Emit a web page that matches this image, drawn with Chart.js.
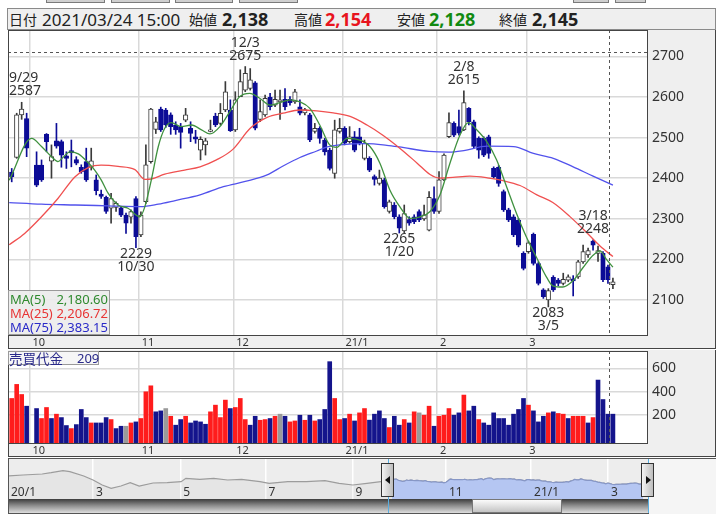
<!DOCTYPE html>
<html>
<head>
<meta charset="utf-8">
<script src="https://cdn.jsdelivr.net/npm/chart.js@4.4.1/dist/chart.umd.min.js"></script>
<style>
  body { margin: 0; width: 728px; height: 520px; overflow: hidden; background: #fff; position: relative;
         font-family: "Noto Sans", "Noto Sans CJK JP", sans-serif; color: #222; }
  .abs { position: absolute; }
  .tab { position: absolute; top: 0; height: 2px; background: #cfcfcf; border: 1px solid #7a7a7a; border-top: none; }
  #head { left: 7px; top: 8px; width: 709px; height: 22px; box-sizing: border-box; background: #efefef; border: 1px solid #8a8a8a; }
  #head span { position: absolute; top: 10px; transform: translateY(-50%); white-space: nowrap; line-height: 1; }
  .jp { font-family: "Noto Sans CJK JP", sans-serif; font-size: 14px; }
  .num { font-size: 17px; }
  .big { font-size: 18px; font-weight: bold; }
  canvas { position: absolute; }
  #maBox { left: 8px; top: 290px; width: 102px; height: 45px; box-sizing: border-box;
           background: rgba(236,236,236,0.92); border: 1px solid #9a9a9a; font-size: 13px; }
  #maBox div { position: absolute; left: 1px; right: 1px; height: 14px; line-height: 14px; }
  #maBox b { font-weight: normal; position: absolute; right: 0; }
  #volBox { left: 8px; top: 351px; width: 91px; height: 14px; box-sizing: border-box; background: rgba(246,246,246,0.95);
            border: 1px solid #9a9a9a; color: #2a2a8a; font-size: 13px; line-height: 12px; }
  .handle { position: absolute; top: 463px; width: 13px; height: 34px; box-sizing: border-box; border: 1px solid #333;
            background: linear-gradient(90deg, #f4f4f4, #bdbdbd); }
  .handle i { position: absolute; top: 12px; width: 0; height: 0; border-top: 4px solid transparent; border-bottom: 4px solid transparent; }
</style>
</head>
<body>
<div class="tab" style="left:46px;width:57px"></div>
<div class="tab" style="left:111px;width:57px"></div>
<div class="tab" style="left:175px;width:56px"></div>
<div class="tab" style="left:239px;width:57px"></div>
<div class="tab" style="left:573px;width:34px"></div>
<div class="tab" style="left:615px;width:29px"></div>

<div id="head" class="abs">
  <span class="jp" style="left:1px">日付</span>
  <span class="num" style="left:34px">2021/03/24 15:00</span>
  <span class="jp" style="left:181px">始値</span>
  <span class="big" style="left:214px">2,138</span>
  <span class="jp" style="left:286px">高値</span>
  <span class="big" style="left:317px;color:#e8141e">2,154</span>
  <span class="jp" style="left:389px">安値</span>
  <span class="big" style="left:421px;color:#118a11">2,128</span>
  <span class="jp" style="left:491px">終値</span>
  <span class="big" style="left:524px">2,145</span>
</div>

<canvas id="main" style="left:8px;top:30px" width="708" height="319"></canvas>
<canvas id="volume" style="left:8px;top:350px" width="708" height="107"></canvas>

<div id="maBox" class="abs">
  <div style="top:1px;color:#2f8a2f">MA(5)<b>2,180.60</b></div>
  <div style="top:15px;color:#e83535">MA(25)<b>2,206.72</b></div>
  <div style="top:29px;color:#2a2ac8">MA(75)<b>2,383.15</b></div>
</div>
<div id="volBox" class="abs"><span class="jp" style="font-size:13.5px;position:absolute;left:0">売買代金</span><span style="position:absolute;left:68px">209</span></div>

<div class="abs" style="left:8px;top:458px;width:708px;height:56px;box-sizing:border-box;background:#f5f5f5;border-top:1px solid #555;border-left:1px solid #555"></div>
<canvas id="nav" style="left:9px;top:459px" width="639" height="40"></canvas>
<div class="abs" style="left:9px;top:499px;width:639px;height:14px;background:linear-gradient(#3c3c3c,#8a8a8a 45%,#dedede)"></div>
<div class="abs" style="left:472px;top:499px;width:90px;height:14px;box-sizing:border-box;border:1px solid #777;background:linear-gradient(#fbfbfb,#c4c4c4)"></div>
<div class="abs" style="left:8px;top:513px;width:641px;height:1px;background:#555"></div>
<div class="abs" style="left:388px;top:459px;width:1px;height:54px;background:#5aaee0"></div>
<div class="abs" style="left:648px;top:459px;width:1px;height:54px;background:#5aaee0"></div>
<div class="handle" style="left:381px"><i style="left:3px;border-right:5px solid #111"></i></div>
<div class="handle" style="left:641px"><i style="left:4px;border-left:5px solid #111"></i></div>

<script>
// trading days shown (10/1 had no trading)
const days = ['9/25','9/28','9/29','9/30',
  '10/1','10/2','10/5','10/6','10/7','10/8','10/9','10/12','10/13','10/14','10/15','10/16','10/19','10/20','10/21','10/22','10/23','10/26','10/27','10/28','10/29','10/30',
  '11/2','11/4','11/5','11/6','11/9','11/10','11/11','11/12','11/13','11/16','11/17','11/18','11/19','11/20','11/24','11/25','11/26','11/27','11/30',
  '12/1','12/2','12/3','12/4','12/7','12/8','12/9','12/10','12/11','12/14','12/15','12/16','12/17','12/18','12/21','12/22','12/23','12/24','12/25','12/28','12/29','12/30',
  '1/4','1/5','1/6','1/7','1/8','1/12','1/13','1/14','1/15','1/18','1/19','1/20','1/21','1/22','1/25','1/26','1/27','1/28','1/29',
  '2/1','2/2','2/3','2/4','2/5','2/8','2/9','2/10','2/12','2/15','2/16','2/17','2/18','2/19','2/22','2/24','2/25','2/26',
  '3/1','3/2','3/3','3/4','3/5','3/8','3/9','3/10','3/11','3/12','3/15','3/16','3/17','3/18','3/19','3/22','3/23','3/24'];

const open = [2415,2451,2556,2547,null,2432,2432,2508,2442,2492,2490,2455,2468,2446,2427,2441,2427,2396,2361,2353,2326,2328,2327,2309,2304,2350,
  2260,2342,2441,2520,2570,2568,2556,2531,2527,2543,2523,2502,2469,2482,2515,2553,2535,2568,2568,
  2519,2601,2617,2621,2635,2545,2556,2599,2580,2588,2594,2594,2588,2576,2561,2556,2515,2523,2494,2469,2412,2515,
  2523,2490,2502,2502,2449,2449,2404,2387,2396,2318,2334,2305,2270,2298,2305,2318,2300,2272,2350,
  2318,2396,2502,2535,2527,2519,2572,2539,2498,2498,2502,2424,2427,2367,2322,2305,2297,2215,
  2219,2262,2190,2125,2100,2156,2149,2141,2149,2152,2157,2194,2211,2245,2215,2215,2182,2138];
const high = [2424,2560,2587,2560,null,2465,2445,2510,2482,2535,2494,2465,2494,2453,2433,2474,2474,2408,2371,2356,2363,2342,2330,2314,2322,2355,
  2317,2482,2572,2550,2575,2572,2561,2539,2535,2572,2539,2518,2502,2498,2543,2560,2584,2638,2593,
  2613,2667,2675,2670,2638,2593,2605,2609,2617,2617,2621,2601,2619,2593,2572,2560,2535,2527,2498,2474,2543,2547,
  2527,2527,2515,2523,2494,2453,2408,2420,2400,2346,2340,2310,2334,2305,2310,2322,2334,2367,2379,
  2416,2460,2561,2539,2568,2615,2574,2543,2502,2502,2506,2428,2431,2371,2326,2310,2301,2219,
  2245,2265,2194,2128,2128,2160,2153,2166,2162,2160,2198,2235,2228,2248,2233,2219,2186,2154];
const low = [2391,2449,2545,2453,null,2379,2392,2465,2400,2474,2427,2424,2428,2433,2412,2392,2420,2359,2350,2313,2289,2318,2305,2264,2289,2229,
  2256,2338,2437,2510,2515,2525,2508,2508,2474,2539,2490,2486,2445,2457,2514,2527,2531,2564,2515,
  2515,2601,2613,2617,2519,2539,2552,2568,2576,2545,2568,2580,2584,2556,2556,2490,2511,2486,2457,2420,2400,2511,
  2482,2486,2465,2482,2445,2416,2383,2383,2326,2314,2300,2265,2266,2284,2288,2293,2296,2270,2313,
  2313,2394,2500,2502,2506,2517,2531,2474,2449,2453,2449,2400,2380,2318,2293,2256,2231,2174,
  2215,2186,2137,2104,2083,2121,2135,2137,2145,2110,2153,2190,2205,2223,2195,2145,2141,2128];
const close = [2404,2556,2570,2474,null,2383,2396,2490,2453,2479,2457,2449,2462,2437,2416,2396,2443,2369,2355,2318,2350,2338,2309,2289,2318,2256,
  2309,2433,2570,2539,2519,2531,2527,2519,2513,2556,2510,2496,2496,2492,2519,2531,2560,2613,2517,
  2593,2638,2658,2642,2523,2564,2597,2576,2594,2593,2576,2586,2613,2560,2569,2494,2523,2498,2465,2424,2519,2523,
  2486,2502,2469,2486,2486,2420,2397,2400,2330,2342,2305,2277,2313,2289,2293,2297,2310,2353,2318,
  2396,2457,2537,2506,2511,2586,2539,2478,2469,2457,2461,2404,2387,2322,2297,2260,2235,2178,
  2241,2190,2141,2108,2123,2125,2141,2151,2157,2147,2194,2219,2222,2235,2222,2150,2150,2145];

// 売買代金 and its colour: u = up, d = down, n = unchanged
const volume = [343,463,377,277,null,257,172,266,172,209,180,112,86,120,249,180,134,134,134,180,163,86,106,106,134,143,
  172,400,451,229,237,257,191,115,163,191,134,151,143,123,229,286,180,329,257,
  266,343,163,115,191,157,163,172,191,209,191,143,151,200,157,200,151,163,249,657,343,163,
  172,209,151,220,257,158,209,237,172,95,191,115,163,134,229,220,200,277,106,
  191,200,257,200,220,372,237,277,163,134,115,220,172,172,115,209,249,343,
  286,237,143,191,220,229,215,209,172,191,191,191,134,180,500,334,209,209];
const volDir = ['u','u','u','d',null,'d','u','u','d','u','d','d','u','d','d','d','u','d','d','d','u','d','d','n','u','d',
  'u','u','u','d','d','n','u','d','d','u','d','d','d','d','u','u','u','u','d',
  'u','u','u','d','d','u','u','d','u','n','d','u','u','d','u','d','u','d','d','d','u','u',
  'd','u','d','u','u','d','d','d','d','u','d','d','u','d','u','n','u','u','d',
  'u','u','u','d','d','u','d','d','u','d','d','d','d','d','d','d','d','d',
  'u','d','d','d','u','d','u','u','d','u','u','u','d','u','d','d','d','d'];
const volTicks = [200, 400, 600];

// moving averages (slot position, value)
const ma5At = [-0.5,4,6,8,9.3,10.3,11.7,13.4,15.4,16.7,18,19.4,21.4,23.4,25.8,26.8,28.1,29.5,30.8,32.1,34.1,36.2,38.2,39.9,41.9,43.9,45.9,47.9,49.9,52,54,56,58,60,62,64,65.4,67.5,70,72.1,74.1,76.1,78.1,80.2,82.2,84.2,86.2,88.2,90.2,91.9,93.6,95.6,97.6,99.6,101.6,103.7,105.7,107.7,108.9,110.9,113,115,117,118.4,119.7,121];
const ma5 = [2395,2498,2478,2453,2441,2451,2465,2460,2438,2420,2396,2363,2334,2326,2305,2330,2396,2478,2523,2537,2527,2531,2519,2509,2527,2564,2601,2609,2597,2580,2586,2593,2588,2572,2531,2482,2476,2498,2494,2478,2437,2371,2330,2301,2305,2318,2359,2437,2506,2537,2519,2490,2445,2379,2313,2252,2203,2155,2135,2132,2148,2180,2210,2221,2200,2181];
const ma25At = [-0.5,2.6,6,9.3,12.7,15.4,18,21.4,24.8,26.8,28.1,30.8,34.8,37.9,41.2,44.5,48,51.4,54.6,58,61.4,64.7,68.1,71.5,74.7,78.1,81.6,84.2,86.2,88.8,92.2,95.7,98.9,102.3,105.7,108.9,112.3,115.8,118.4,121];
const ma25 = [2236,2264,2305,2350,2403,2426,2432,2429,2421,2397,2398,2410,2420,2428,2445,2471,2523,2550,2560,2568,2566,2561,2552,2531,2506,2474,2437,2409,2400,2402,2405,2401,2394,2382,2359,2340,2306,2265,2233,2207];
const ma75At = [-0.5,6,12.8,19.4,26,29.5,32.9,37.9,42.6,47,51.4,54.6,58,61.4,63.5,66,71.5,75.5,78,84,88,91,95.7,101,105,109,113,117,121];
const ma75 = [2340,2336,2334,2332,2330,2336,2345,2359,2379,2392,2408,2430,2451,2467,2477,2482,2485,2481,2477,2466,2464,2468,2479,2478,2461,2449,2428,2405,2383];

const monthFirst = [4, 26, 45, 67, 86, 104];
const monthText = ['10', '11', '12', '21/1', '2', '3'];
const peakIdx = [2, 47, 91, 117];
const troughIdx = [25, 78, 108];
const crossIdx = 120.2, crossPrice = 2711;

const navAt = [-185,-177.7,-168.5,-164.2,-158.5,-155.2,-148.5,-144,-139.6,-135.3,-130.6,-126.1,-121.8,-115.1,-108.3,-101.6,-99.3,-92.6,-85.9,-79.2,-72.5,-63.6,-59.2,-50.2,-41.2,-32.3,-25.5,-18.9,-12.1,-5.4];
const navVal = [2826,2909,2992,3100,3267,3184,2826,2494,2078,1804,1995,2269,1995,2245,2269,2353,2635,2552,2635,2494,2552,2353,2220,2353,2353,2436,2220,2078,2220,2353];
const navTickAt = [-185, -144, -102, -61, -19, 26, 67, 104];
const navTickText = ['20/1', '3', '5', '7', '9', '11', '21/1', '3'];
const navFrom = -2, navTo = 123.3;

Chart.defaults.font.family = '"Noto Sans", "Noto Sans CJK JP", sans-serif';
Chart.defaults.color = '#333';
Chart.defaults.animation = false;

const GRID = '#d9d9d9';
const UP_EDGE = '#3a3a3a';
const DOWN = '#0c0c96';
const VOL_COL = { u: '#ff1c1c', d: '#14148c', n: '#9a9a9a' };

const slots = days.map((d, i) => i).filter(i => open[i] !== null);
const isUp = i => close[i] >= open[i];
const toPts = (at, vals) => at.map((x, k) => ({ x, y: vals[k] }));
const noPad = s => { s.paddingLeft = 0; s.paddingRight = 0; s.paddingTop = 0; s.paddingBottom = 0; };

const frame = {
  id: 'frame',
  beforeDraw(chart) {
    const { ctx, chartArea: a, width, height } = chart;
    ctx.save();
    ctx.fillStyle = '#efefef';
    ctx.fillRect(0, 0, width, height);
    ctx.fillStyle = '#fff';
    ctx.fillRect(a.left, a.top, a.right - a.left, a.bottom - a.top);
    ctx.restore();
  },
  afterDraw(chart) {
    const { ctx, chartArea: a, width, height } = chart;
    ctx.save();
    ctx.strokeStyle = '#444';
    ctx.lineWidth = 1;
    ctx.strokeRect(a.left + 0.5, a.top + 0.5, a.right - a.left - 1, a.bottom - a.top);
    ctx.beginPath();
    ctx.moveTo(width - 0.5, 0); ctx.lineTo(width - 0.5, height);
    ctx.moveTo(0, height - 0.5); ctx.lineTo(width, height - 0.5);
    ctx.moveTo(0.5, a.bottom); ctx.lineTo(0.5, height);
    ctx.stroke();
    ctx.restore();
  }
};

const cross = {
  id: 'cross',
  afterDatasetsDraw(chart, args, opts) {
    const { ctx, chartArea: a, scales } = chart;
    ctx.save();
    ctx.setLineDash([3, 3]);
    ctx.strokeStyle = '#555';
    ctx.lineWidth = 1;
    ctx.beginPath();
    const cx = Math.round(scales.x.getPixelForValue(opts.idx)) + 0.5;
    ctx.moveTo(cx, a.top); ctx.lineTo(cx, a.bottom);
    if (opts.price) {
      const cy = Math.round(scales.y.getPixelForValue(opts.price)) + 0.5;
      ctx.moveTo(a.left, cy); ctx.lineTo(a.right, cy);
    }
    ctx.stroke();
    ctx.restore();
  }
};

// high / low labels
const marks = {
  id: 'marks',
  afterDatasetsDraw(chart) {
    const { ctx, chartArea: a, scales: { x, y } } = chart;
    ctx.save();
    ctx.font = '14px "Noto Sans"';
    ctx.fillStyle = '#333';
    ctx.textBaseline = 'middle';
    ctx.textAlign = 'left';
    const put = (text, cx, cy) => {
      const w = ctx.measureText(text).width;
      const left = Math.max(a.left + 1, Math.min(cx - w / 2, a.right - w - 1));
      ctx.fillText(text, left, cy);
    };
    peakIdx.forEach(i => {
      const px = x.getPixelForValue(i), py = y.getPixelForValue(high[i]);
      put(days[i], px, py - 24);
      put(String(high[i]), px, py - 11);
    });
    troughIdx.forEach(i => {
      const px = x.getPixelForValue(i), py = y.getPixelForValue(low[i]);
      put(String(low[i]), px, py + 6);
      put(days[i], px, py + 19);
    });
    ctx.restore();
  }
};

const xAxis = {
  type: 'linear', min: -0.75, max: 128.06, offset: false,
  afterBuildTicks: s => { s.ticks = monthFirst.map(v => ({ value: v - 0.4 })); },
  afterFit: s => { s.height = 14; noPad(s); },
  ticks: { autoSkip: false, maxRotation: 0, align: 'start', padding: 1, font: { size: 11 },
           callback: (v, k) => ' ' + monthText[k] },
  grid: { color: GRID, lineWidth: 1.5, drawTicks: false, offset: false },
  border: { display: false }
};

new Chart(document.getElementById('main'), {
  type: 'bar',
  data: {
    datasets: [
      { type: 'line', data: toPts(ma5At, ma5), borderColor: '#3f913f', borderWidth: 1.3, pointRadius: 0,
        cubicInterpolationMode: 'monotone', order: 0 },
      { type: 'line', data: toPts(ma25At, ma25), borderColor: '#f05050', borderWidth: 1.3, pointRadius: 0,
        cubicInterpolationMode: 'monotone', order: 0 },
      { type: 'line', data: toPts(ma75At, ma75), borderColor: '#5252ec', borderWidth: 1.3, pointRadius: 0,
        cubicInterpolationMode: 'monotone', order: 0 },
      { data: slots.map(i => ({ x: i, y: [Math.min(open[i], close[i]), Math.max(open[i], close[i])] })),
        backgroundColor: slots.map(i => isUp(i) ? '#fff' : DOWN),
        borderColor: slots.map(i => isUp(i) ? UP_EDGE : DOWN),
        borderWidth: 1, borderSkipped: false, barThickness: 4.5, grouped: false, order: 1 },
      { data: slots.map(i => ({ x: i, y: [low[i], high[i]] })),
        backgroundColor: slots.map(i => isUp(i) ? UP_EDGE : DOWN),
        barThickness: 1, grouped: false, order: 2 }
    ]
  },
  options: {
    responsive: false,
    maintainAspectRatio: false,
    layout: { padding: 0 },
    scales: {
      x: xAxis,
      y: {
        position: 'right', min: 2013.8, max: 2765,
        afterFit: s => { s.width = 68; noPad(s); },
        ticks: { stepSize: 100, includeBounds: false, padding: 4, font: { size: 14 }, callback: v => String(v) },
        grid: { color: GRID, lineWidth: 1.5, drawTicks: false },
        border: { display: false }
      }
    },
    plugins: { legend: { display: false }, tooltip: { enabled: false },
               cross: { idx: crossIdx, price: crossPrice } }
  },
  plugins: [frame, marks, cross]
});

new Chart(document.getElementById('volume'), {
  type: 'bar',
  data: {
    datasets: [{
      data: slots.map(i => ({ x: i, y: volume[i] })),
      backgroundColor: slots.map(i => VOL_COL[volDir[i]]),
      barThickness: 4, grouped: false, base: -37
    }]
  },
  options: {
    responsive: false,
    maintainAspectRatio: false,
    layout: { padding: { top: 1 } },
    scales: {
      x: xAxis,
      y: {
        position: 'right', min: -37, max: 748,
        afterBuildTicks: s => { s.ticks = volTicks.map(v => ({ value: v })); },
        afterFit: s => { s.width = 68; noPad(s); },
        ticks: { padding: 4, font: { size: 14 }, callback: v => String(v) },
        grid: { color: GRID, lineWidth: 1.5, drawTicks: false },
        border: { display: false }
      }
    },
    plugins: { legend: { display: false }, tooltip: { enabled: false }, cross: { idx: crossIdx } }
  },
  plugins: [frame, cross]
});

const navPts = toPts(navAt, navVal).concat(slots.map(i => ({ x: i, y: close[i] })));
const navLabels = {
  id: 'navLabels',
  beforeDraw(chart) {
    const { ctx, width, height } = chart;
    ctx.save();
    ctx.fillStyle = '#ededed';
    ctx.fillRect(0, 0, width, height);
    ctx.restore();
  },
  afterDraw(chart) {
    const { ctx, scales: { x } } = chart;
    ctx.save();
    ctx.font = '12px "Noto Sans"';
    ctx.fillStyle = '#333';
    ctx.textBaseline = 'middle';
    navTickAt.forEach((v, k) => {
      ctx.fillText(navTickText[k], Math.max(2, x.getPixelForValue(v) + 3), 34);
    });
    ctx.restore();
  }
};

new Chart(document.getElementById('nav'), {
  type: 'line',
  data: {
    datasets: [
      { data: navPts.filter(p => p.x >= navFrom && p.x <= navTo), borderColor: '#8797c6', borderWidth: 1.2,
        backgroundColor: '#b5c6f2', fill: 'start', pointRadius: 0, order: 0 },
      { data: navPts, borderColor: '#9c9c9c', borderWidth: 1.2, backgroundColor: 'rgba(0,0,0,0.03)',
        fill: 'start', pointRadius: 0, order: 1 }
    ]
  },
  options: {
    responsive: false,
    maintainAspectRatio: false,
    layout: { padding: 0 },
    scales: {
      x: {
        type: 'linear', min: -184.5, max: 123.3,
        afterBuildTicks: s => { s.ticks = navTickAt.map(v => ({ value: v })); },
        afterFit: s => { s.height = 0; noPad(s); },
        ticks: { display: false },
        grid: { color: c => c.index === 0 ? 'rgba(0,0,0,0)' : '#ffffff', lineWidth: 1.5, drawTicks: false },
        border: { display: false }
      },
      y: { display: false, min: 915, max: 4239 }
    },
    plugins: { legend: { display: false }, tooltip: { enabled: false } }
  },
  plugins: [navLabels]
});
</script>
</body>
</html>
